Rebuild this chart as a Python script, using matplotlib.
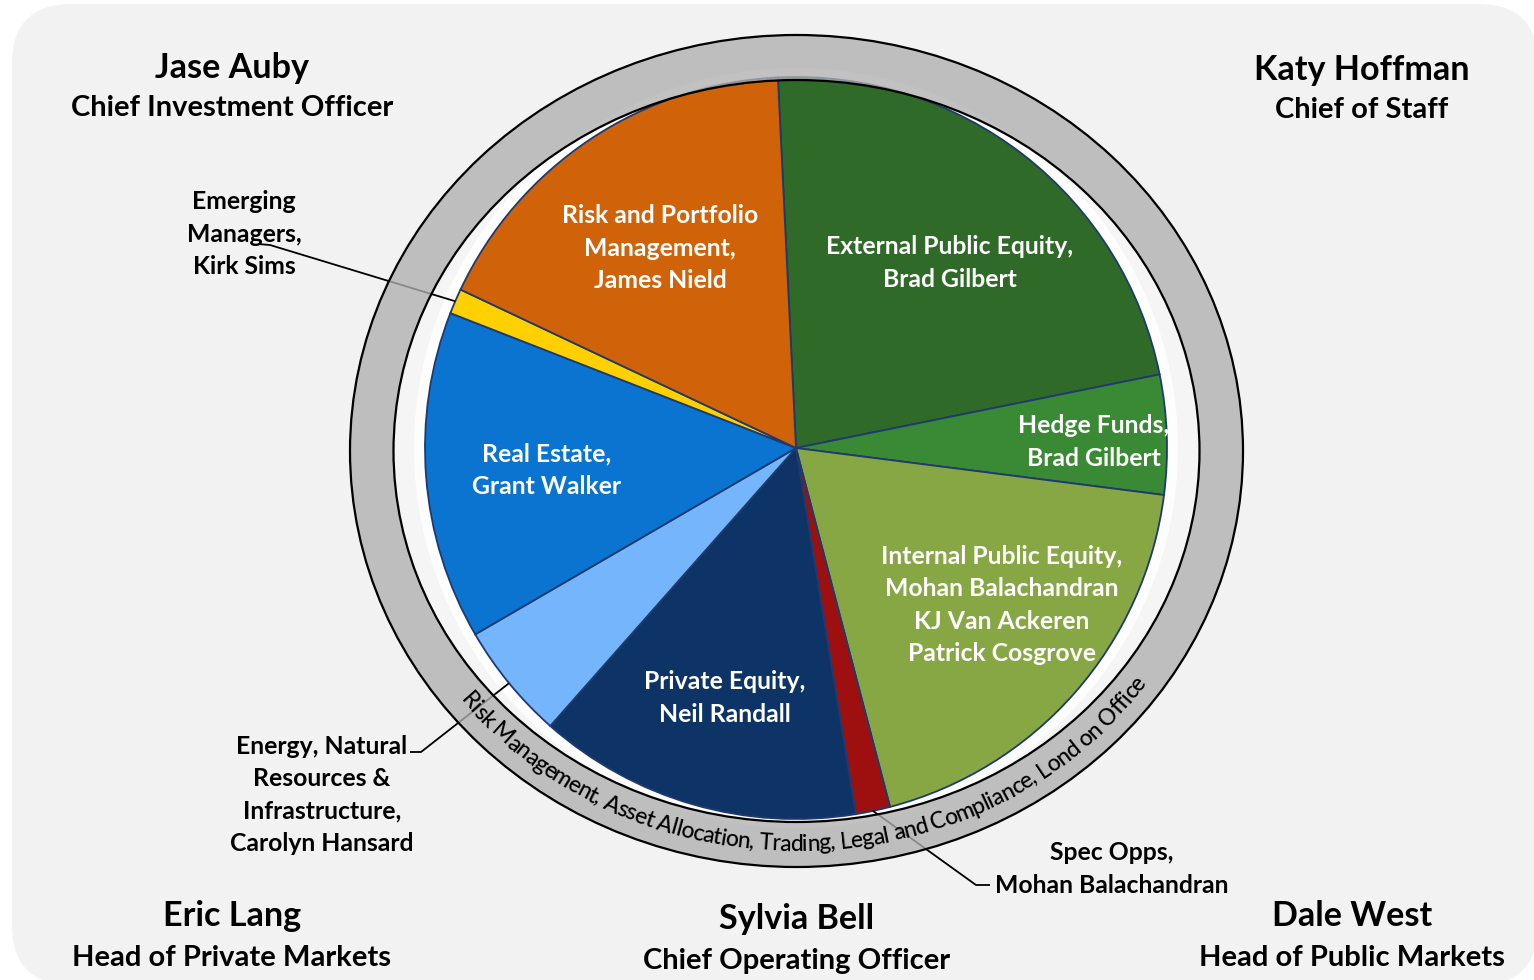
import numpy as np
import matplotlib
matplotlib.use("Agg")
import matplotlib.pyplot as plt
from matplotlib.patches import FancyBboxPatch, Ellipse, PathPatch
from matplotlib.path import Path
from matplotlib import font_manager
from matplotlib.font_manager import FontProperties
from matplotlib.ft2font import FT2Font

# ---------------- data ----------------
categories = ["External Public Equity", "Hedge Funds", "Internal Public Equity",
              "Spec Opps", "Private Equity",
              "Energy, Natural Resources & Infrastructure", "Real Estate",
              "Emerging Managers", "Risk and Portfolio Management"]
shares = [22.6, 5.2, 18.9, 1.5, 14.1, 5.1, 14.3, 1.1, 17.2]
slice_labels = [
    "External Public Equity,\nBrad Gilbert",
    "Hedge Funds,\nBrad Gilbert",
    "Internal Public Equity,\nMohan Balachandran\nKJ Van Ackeren\nPatrick Cosgrove",
    "Spec Opps,\nMohan Balachandran",
    "Private Equity,\nNeil Randall",
    "Energy, Natural\nResources &\nInfrastructure,\nCarolyn Hansard",
    "Real Estate,\nGrant Walker",
    "Emerging\nManagers,\nKirk Sims",
    "Risk and Portfolio\nManagement,\nJames Nield",
]
slice_colors = ["#2F6A28", "#3A8934", "#87A745", "#9E1010", "#0E3467",
                "#74B5FB", "#0B74D1", "#FFD000", "#D0620A"]

executives = ["Jase Auby", "Katy Hoffman", "Eric Lang", "Sylvia Bell", "Dale West"]
exec_titles = ["Chief Investment Officer", "Chief of Staff", "Head of Private Markets",
               "Chief Operating Officer", "Head of Public Markets"]
ring_text = "Risk Management, Asset Allocation, Trading, Legal and Compliance, Lond on Office"

# ---------------- layout ----------------
W, H = 1534, 980
fig = plt.figure(figsize=(W / 100, H / 100), dpi=100)
ax = fig.add_axes([0, 0, 1, 1])

def Y(y):  # image row -> data y
    return H - y

cx, cy = 796, Y(448)
R = 371

bg = FancyBboxPatch((12 + 60, Y(985) + 60), 1526 - 120, 981 - 120,
                    boxstyle="round,pad=60", fc="#F2F2F2", ec="none", zorder=0)
ax.add_patch(bg)

# elliptical ring
ex0, ey0 = 796.5, Y(451)
a_out, b_out = 446.5, 416
a_in, b_in = 403, 371
ax.add_patch(Ellipse((ex0, ey0), 2 * a_in, 2 * b_in, fc="#F5F5F5", ec="none", zorder=1))
ax.add_patch(Ellipse((cx, cy), 2 * 382, 2 * 380, fc="white", ec="none", alpha=0.85, zorder=1))

tt = np.linspace(0, 2 * np.pi, 721)
outer = np.column_stack([ex0 + a_out * np.cos(tt), ey0 + b_out * np.sin(tt)])
inner = np.column_stack([ex0 + a_in * np.cos(tt[::-1]), ey0 + b_in * np.sin(tt[::-1])])
verts = np.vstack([outer, inner])
codes = np.full(len(verts), Path.LINETO)
codes[0] = Path.MOVETO
codes[len(outer)] = Path.MOVETO
ring = PathPatch(Path(verts, codes), fc=(0.69, 0.69, 0.69, 0.78), ec="none", zorder=5)
ax.add_patch(ring)
for a_, b_ in [(a_out, b_out), (a_in, b_in)]:
    ax.add_patch(Ellipse((ex0, ey0), 2 * a_, 2 * b_, fc="none", ec="black", lw=1.6, zorder=5))

wedges, _ = ax.pie(shares, colors=slice_colors, startangle=92.8, counterclock=False,
                   radius=R, center=(cx, cy), frame=True,
                   wedgeprops=dict(edgecolor="#1F3A6E", linewidth=1.3))
for w_ in wedges:
    w_.set_zorder(3)

white_pos = {0: (950, 261), 1: (1094, 440), 2: (1002, 603), 4: (725, 696),
             6: (547, 468), 8: (660, 246)}
black_pos = {3: (1112, 867), 5: (322, 793), 7: (244, 232)}
step = 32.5
lab_font = dict(family="Lato", weight="bold", fontsize=17.8)

def draw_lines(text, xc, yc, color):
    lines = text.split("\n")
    n = len(lines)
    for k, ln in enumerate(lines):
        yy = yc + (k - (n - 1) / 2) * step
        ax.text(xc, Y(yy), ln, ha="center", va="center_baseline", color=color,
                zorder=6, **lab_font)

for i, lab in enumerate(slice_labels):
    if i in white_pos:
        draw_lines(lab, *white_pos[i], "white")
    else:
        draw_lines(lab, *black_pos[i], "black")

# leader lines (end on the slice mid-angle at the pie edge)
theta = 92.8
mids = []
for s in shares:
    span = s / sum(shares) * 360
    mids.append(theta - span / 2)
    theta -= span
leader_start = {7: [(258, 244), (270, 245)], 5: [(410, 752), (421, 752)],
                3: [(990, 885), (976, 885)]}
for i, pts in leader_start.items():
    a = np.deg2rad(mids[i])
    ex, ey = cx + R * np.cos(a), cy + R * np.sin(a)
    xs = [p[0] for p in pts] + [ex]
    ys = [Y(p[1]) for p in pts] + [ey]
    ax.plot(xs, ys, color="black", lw=1.3, zorder=4, solid_capstyle="butt")

# curved ring text along the elliptical ring
fp = FontProperties(family="Lato", weight=500)
font = FT2Font(font_manager.findfont(fp))
base_size = 15
font.set_size(base_size, 100)
adv = np.array([font.load_char(ord(c)).linearHoriAdvance / 65536.0 for c in ring_text])

a_b, b_b = 430.5, 400      # baseline ellipse
t_start, t_end = np.deg2rad(-141.3), np.deg2rad(-35.5)
tg = np.linspace(t_start - 0.3, t_end + 0.3, 4000)
px = ex0 + a_b * np.cos(tg)
py = ey0 + b_b * np.sin(tg)
sl = np.concatenate([[0], np.cumsum(np.hypot(np.diff(px), np.diff(py)))])
s0 = np.interp(t_start, tg, sl)
s1 = np.interp(t_end, tg, sl)
span_needed = (s1 - s0) * 0.985
span_base = adv.sum() - adv[0] / 2 - adv[-1] / 2
size_fit = base_size * span_needed / span_base
adv = adv * size_fit / base_size
draw_size = size_fit * 1.07
cent = np.cumsum(adv) - adv / 2 - adv[0] / 2 + s0 + (s1 - s0) * 0.0075
for c, s in zip(ring_text, cent):
    t = np.interp(s, sl, tg)
    x = ex0 + a_b * np.cos(t)
    y = ey0 + b_b * np.sin(t)
    rot = np.rad2deg(np.arctan2(b_b * np.cos(t), -a_b * np.sin(t)))
    ax.text(x, y, c, rotation=rot, rotation_mode="anchor", ha="center", va="baseline",
            family="Lato", weight=500, fontsize=draw_size, color="black", zorder=6)

# executive titles
exec_pos = [(232, 65, 106), (1362, 67, 108), (232, 913, 955), (797, 916, 958), (1352, 913, 955)]
for name, title, (x, y1, y2) in zip(executives, exec_titles, exec_pos):
    ax.text(x, Y(y1), name, ha="center", va="center_baseline", family="Lato",
            weight="bold", fontsize=24.6, color="black", zorder=6)
    ax.text(x, Y(y2), title, ha="center", va="center_baseline", family="Lato",
            weight="bold", fontsize=21, color="black", zorder=6)

ax.set_xlim(0, W)
ax.set_ylim(0, H)
ax.set_aspect("equal")
ax.axis("off")
fig.savefig("out.png", dpi=100, facecolor="white")
